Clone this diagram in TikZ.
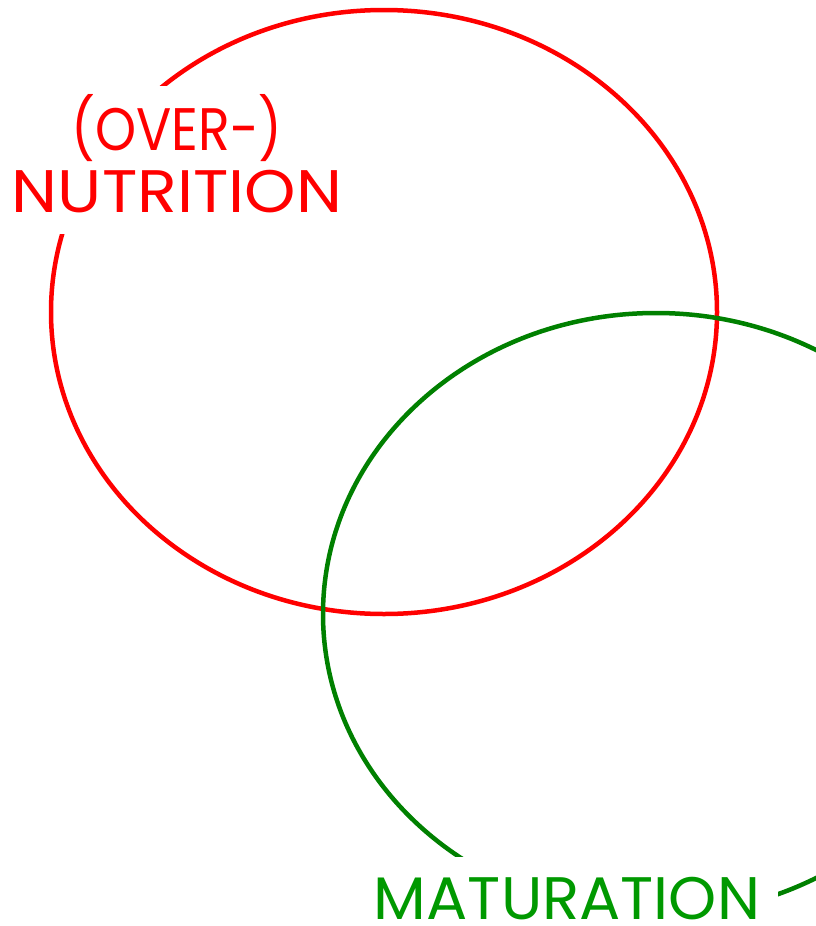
\documentclass[tikz,border=0pt]{standalone}
\usepackage{fontspec}
\setmainfont{Poppins}
\definecolor{ellred}{RGB}{255,0,0}
\definecolor{ellgreen}{RGB}{0,128,0}
\definecolor{txtgreen}{RGB}{0,153,0}
\begin{document}
\begin{tikzpicture}[x=1pt,y=-1pt,
  ring/.style={line width=4.5pt},
  mask/.style={fill=white,draw=none,inner sep=0pt,anchor=north west},
  lbl/.style={font=\fontsize{60}{60}\selectfont,inner sep=0pt,anchor=base,text depth=0pt}]
\useasboundingbox (0,0) rectangle (816,926);
\draw[ring,ellred] (384,312) ellipse [x radius=333,y radius=-302];
\draw[ring,ellgreen] (656,614) ellipse [x radius=333,y radius=-301];
\node[mask,minimum width=345pt,minimum height=148pt] (maskA) at (0,86) {};
\node[mask,minimum width=408pt,minimum height=69pt] (maskB) at (370,857) {};
\node[lbl,text=ellred,xscale=0.87] (over) at (177,150) {(OVER-)};
\node[lbl,text=ellred,xscale=1.09] (nutr) at (177,212) {NUTRITION};
\node[lbl,text=txtgreen,xscale=1.02] (mat) at (567,919) {MATURATION};
\end{tikzpicture}
\end{document}
